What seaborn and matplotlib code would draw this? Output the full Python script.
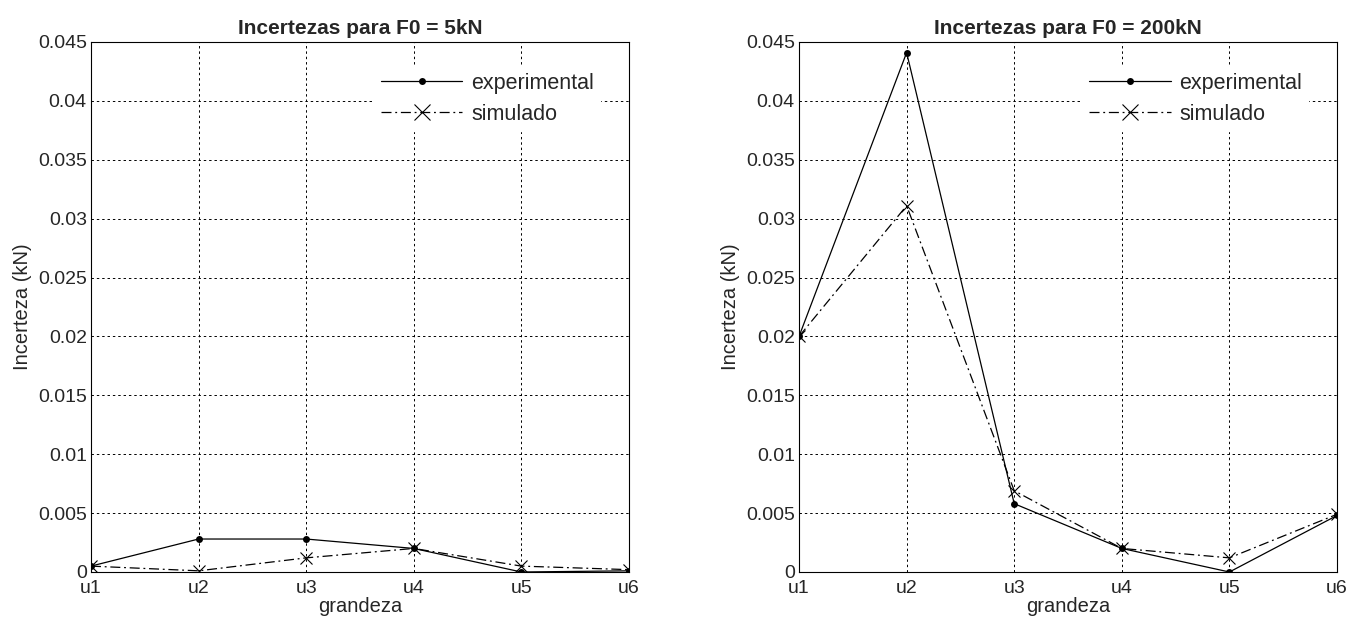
import matplotlib
matplotlib.use("Agg")
import matplotlib.pyplot as plt
import seaborn as sns

# data
grandezas = ["u1", "u2", "u3", "u4", "u5", "u6"]
exp_5kN = [0.0005, 0.0028, 0.0028, 0.0020, 0.0000, 0.0001]
sim_5kN = [0.0005, 0.0001, 0.0012, 0.0020, 0.0005, 0.0002]
exp_200kN = [0.0200, 0.0441, 0.0058, 0.0020, 0.0000, 0.0048]
sim_200kN = [0.0200, 0.0311, 0.0069, 0.0020, 0.0012, 0.0049]
titles = ["Incertezas para F0 = 5kN", "Incertezas para F0 = 200kN"]
yticks = [0, 0.005, 0.01, 0.015, 0.02, 0.025, 0.03, 0.035, 0.04, 0.045]
ytick_labels = ["0", "0.005", "0.01", "0.015", "0.02", "0.025", "0.03", "0.035", "0.04", "0.045"]

sns.set_style("white")
plt.rcParams["font.family"] = ["Liberation Sans", "DejaVu Sans"]

fig = plt.figure(figsize=(13.64, 6.25), dpi=100)
ax1 = fig.add_axes([0.0667, 0.0848, 0.3944, 0.848])
ax2 = fig.add_axes([0.5858, 0.0848, 0.3944, 0.848])

x = list(range(len(grandezas)))
for ax, exp, sim, title in [(ax1, exp_5kN, sim_5kN, titles[0]),
                            (ax2, exp_200kN, sim_200kN, titles[1])]:
    sns.lineplot(x=x, y=exp, ax=ax, color="black", linewidth=0.9,
                 marker="o", markersize=5, markeredgewidth=0,
                 label="experimental", zorder=3)
    sns.lineplot(x=x, y=sim, ax=ax, color="black", linewidth=0.9,
                 linestyle=(0, (8, 3, 1.5, 3)), marker="x", markersize=9,
                 markeredgewidth=0.8, markeredgecolor="black",
                 label="simulado", zorder=3)
    ax.set_xlim(0, 5)
    ax.set_ylim(0, 0.045)
    ax.set_xticks(x)
    ax.set_xticklabels(grandezas)
    ax.set_yticks(yticks)
    ax.set_yticklabels(ytick_labels)
    ax.tick_params(axis="both", direction="in", labelsize=14, length=4, color="black")
    ax.tick_params(axis="x", pad=6)
    ax.tick_params(axis="y", pad=3)
    ax.grid(True, color="black", linestyle=(0, (2.5, 3)), linewidth=0.7)
    for sp in ax.spines.values():
        sp.set_color("black")
        sp.set_linewidth(0.8)
    ax.set_title(title, fontsize=15, fontweight="bold", pad=6)
    ax.set_xlabel("grandeza", fontsize=14.5, labelpad=0)
    ax.set_ylabel("Incerteza (kN)", fontsize=14.5, labelpad=4)
    leg = ax.legend(loc="upper right", bbox_to_anchor=(0.955, 0.962), frameon=True,
                    fontsize=15.5, handlelength=3.8, handletextpad=0.4,
                    labelspacing=0.45, borderaxespad=0.2, borderpad=0.3,
                    edgecolor="white", fancybox=False, framealpha=1)
    for h in leg.legend_handles:
        if h.get_marker() == "x":
            h.set_markersize(12)

fig.savefig("out.png", dpi=100)
